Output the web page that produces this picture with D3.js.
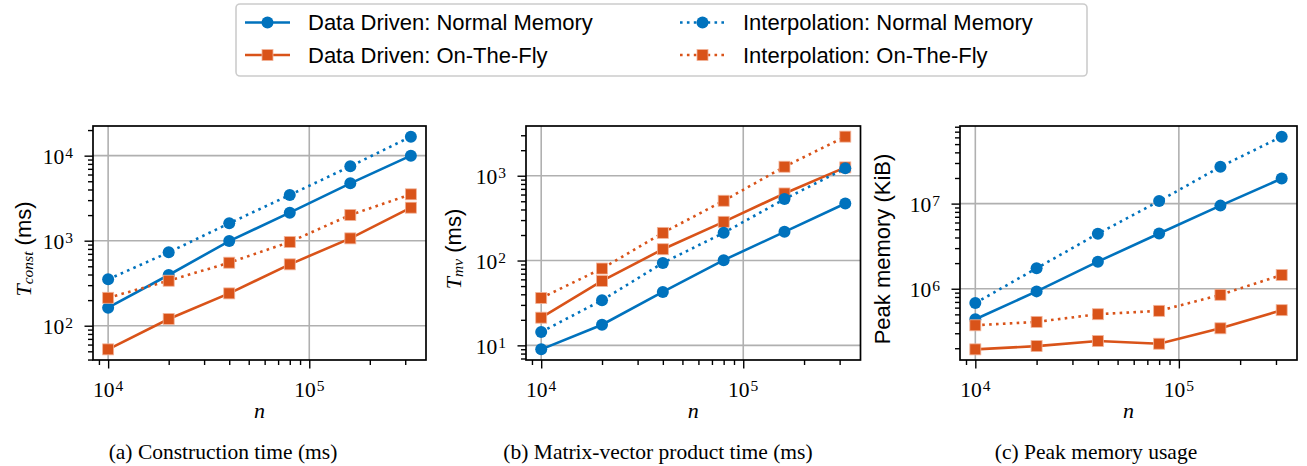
<!DOCTYPE html>
<html>
<head>
<meta charset="utf-8">
<script src="https://cdn.jsdelivr.net/npm/d3@7"></script>
<style>
  body { margin: 0; background: #fff; }
  svg { display: block; }
</style>
</head>
<body>
<svg id="chart" width="1307" height="466"></svg>
<script>
// Problem sizes (x axis, shared by all three panels)
const nValues = [1e4, 2e4, 4e4, 8e4, 1.6e5, 3.2e5];

const seriesNames = [
  "Data Driven: Normal Memory",
  "Data Driven: On-The-Fly",
  "Interpolation: Normal Memory",
  "Interpolation: On-The-Fly"
];

// (a) construction time, ms
const constDDNormal = [163, 395, 990, 2135, 4730, 10000];
const constDDOtf = [52.7, 120, 240, 527, 1065, 2445];
const constIntNormal = [351, 729, 1600, 3445, 7490, 16740];
const constIntOtf = [213, 338, 551, 965, 2005, 3510];

// (b) matrix-vector product time, ms
const mvDDNormal = [8.97, 17.5, 42.7, 101, 218, 471];
const mvDDOtf = [21.2, 57.5, 136, 286, 618, 1254];
const mvIntNormal = [14.4, 34, 93.8, 212, 530, 1221];
const mvIntOtf = [36.2, 80.5, 212, 507, 1277, 2890];

// (c) peak memory, KiB
const memDDNormal = [438e3, 931e3, 2.08e6, 4.46e6, 9.47e6, 19.7e6];
const memDDOtf = [194e3, 212e3, 243e3, 226e3, 343e3, 560e3];
const memIntNormal = [678e3, 1.74e6, 4.43e6, 10.7e6, 27.1e6, 61.2e6];
const memIntOtf = [372e3, 408e3, 502e3, 550e3, 849e3, 1.45e6];

const captions = [
  "(a) Construction time (ms)",
  "(b) Matrix-vector product time (ms)",
  "(c) Peak memory usage"
];

const blue = "#0072BD";
const orange = "#D95319";
const serif = "'Liberation Serif', 'DejaVu Serif', serif";
const sans = "'Liberation Sans', Arial, sans-serif";

const svg = d3.select("#chart");

// style for each series, in plotting order
const styles = [
  { color: blue, dash: null, marker: "circle" },
  { color: orange, dash: null, marker: "square" },
  { color: blue, dash: "2.6,4.3", marker: "circle" },
  { color: orange, dash: "2.6,4.3", marker: "square" }
];

const panels = [
  { box: [93, 426], series: [constDDNormal, constDDOtf, constIntNormal, constIntOtf],
    ylabel: "const", labelX: 23, capX: 223 },
  { box: [526, 860.5], series: [mvDDNormal, mvDDOtf, mvIntNormal, mvIntOtf],
    ylabel: "mv", labelX: 453, capX: 658 },
  { box: [960, 1297], series: [memDDNormal, memDDOtf, memIntNormal, memIntOtf],
    ylabel: "mem", labelX: 882, capX: 1096 }
];

const plotTop = 126, plotBottom = 360;

// log domain with matplotlib-like 5% margin
function logDomain(values) {
  const lo = Math.log10(d3.min(values)), hi = Math.log10(d3.max(values));
  const m = (hi - lo) * 0.05;
  return [Math.pow(10, lo - m), Math.pow(10, hi + m)];
}

function minorTicks(domain) {
  const out = [];
  const d0 = Math.floor(Math.log10(domain[0])), d1 = Math.ceil(Math.log10(domain[1]));
  for (let d = d0; d <= d1; d++) {
    for (let k = 2; k <= 9; k++) {
      const v = k * Math.pow(10, d);
      if (v >= domain[0] && v <= domain[1]) out.push(v);
    }
  }
  return out;
}

function majorTicks(domain) {
  const out = [];
  const d0 = Math.ceil(Math.log10(domain[0]) - 1e-9), d1 = Math.floor(Math.log10(domain[1]) + 1e-9);
  for (let d = d0; d <= d1; d++) out.push(Math.pow(10, d));
  return out;
}

function powLabel(sel, v) {
  const e = Math.round(Math.log10(v));
  sel.append("tspan").text("10");
  sel.append("tspan").attr("font-size", "15.5px").attr("dx", "1").attr("dy", "-6").text(e);
}

const xDomain = logDomain(nValues);

panels.forEach((p, pi) => {
  const g = svg.append("g");
  const x = d3.scaleLog().domain(xDomain).range(p.box);
  const yDomain = logDomain(p.series.flat());
  const y = d3.scaleLog().domain(yDomain).range([plotBottom, plotTop]);

  const xMajor = majorTicks(xDomain), yMajor = majorTicks(yDomain);

  // grid
  g.append("g").selectAll("line").data(xMajor).join("line")
    .attr("x1", d => x(d)).attr("x2", d => x(d))
    .attr("y1", plotTop).attr("y2", plotBottom)
    .attr("stroke", "#b0b0b0").attr("stroke-width", 1.6);
  g.append("g").selectAll("line").data(yMajor).join("line")
    .attr("y1", d => y(d)).attr("y2", d => y(d))
    .attr("x1", p.box[0]).attr("x2", p.box[1])
    .attr("stroke", "#b0b0b0").attr("stroke-width", 1.6);

  // axes ticks
  const xAxisMinor = d3.axisBottom(x).tickValues(minorTicks(xDomain)).tickSize(5).tickFormat("");
  const xAxisMajor = d3.axisBottom(x).tickValues(xMajor).tickSize(8.5).tickFormat("");
  const yAxisMinor = d3.axisLeft(y).tickValues(minorTicks(yDomain)).tickSize(5).tickFormat("");
  const yAxisMajor = d3.axisLeft(y).tickValues(yMajor).tickSize(8.5).tickFormat("");

  [xAxisMinor, xAxisMajor].forEach(ax => {
    g.append("g").attr("transform", `translate(0,${plotBottom})`).call(ax)
      .call(s => s.select(".domain").remove())
      .selectAll("line").attr("stroke", "#000").attr("stroke-width", 1.4);
  });
  [yAxisMinor, yAxisMajor].forEach(ax => {
    g.append("g").attr("transform", `translate(${p.box[0]},0)`).call(ax)
      .call(s => s.select(".domain").remove())
      .selectAll("line").attr("stroke", "#000").attr("stroke-width", 1.4);
  });

  // tick labels
  g.append("g").selectAll("text").data(xMajor).join("text")
    .attr("x", d => x(d)).attr("y", 397)
    .attr("text-anchor", "middle")
    .attr("font-family", serif).attr("font-size", "21.5px")
    .each(function(d) { powLabel(d3.select(this), d); });
  g.append("g").selectAll("text").data(yMajor).join("text")
    .attr("x", p.box[0] - 20).attr("y", d => y(d) + 8.5)
    .attr("text-anchor", "end")
    .attr("font-family", serif).attr("font-size", "21.5px")
    .each(function(d) { powLabel(d3.select(this), d); });

  // series
  const line = d3.line().x((d, i) => x(nValues[i])).y(d => y(d));
  p.series.forEach((vals, si) => {
    const st = styles[si];
    const sg = g.append("g");
    sg.append("path").datum(vals)
      .attr("d", line).attr("fill", "none")
      .attr("stroke", st.color).attr("stroke-width", 2.6)
      .attr("stroke-dasharray", st.dash);
    if (st.marker === "circle") {
      sg.selectAll("circle").data(vals).join("circle")
        .attr("cx", (d, i) => x(nValues[i])).attr("cy", d => y(d))
        .attr("r", 6).attr("fill", st.color);
    } else {
      sg.selectAll("rect").data(vals).join("rect")
        .attr("x", (d, i) => x(nValues[i]) - 5.5).attr("y", d => y(d) - 5.5)
        .attr("width", 11).attr("height", 11)
        .attr("fill", st.color).attr("stroke", "#f2b49a").attr("stroke-width", 0.8);
    }
  });

  // frame
  g.append("rect")
    .attr("x", p.box[0]).attr("y", plotTop)
    .attr("width", p.box[1] - p.box[0]).attr("height", plotBottom - plotTop)
    .attr("fill", "none").attr("stroke", "#000").attr("stroke-width", 1.7);

  // x label
  g.append("text")
    .attr("x", (p.box[0] + p.box[1]) / 2).attr("y", 418)
    .attr("text-anchor", "middle")
    .attr("font-family", serif).attr("font-style", "italic").attr("font-size", "22px")
    .text("n");

  // y label
  const yl = g.append("text")
    .attr("transform", `translate(${p.labelX},249) rotate(-90)`)
    .attr("text-anchor", "middle")
    .attr("dominant-baseline", "central")
    .attr("font-size", "22px");
  if (p.ylabel === "mem") {
    yl.attr("font-family", sans).text("Peak memory (KiB)");
  } else {
    yl.append("tspan").attr("font-family", serif).attr("font-style", "italic").text("T");
    yl.append("tspan").attr("font-family", serif).attr("font-style", "italic")
      .attr("font-size", "15.5px").attr("dy", "4").text(p.ylabel);
    yl.append("tspan").attr("font-family", sans).attr("dy", "-4").text(" (ms)");
  }

  // caption
  g.append("text")
    .attr("x", p.capX).attr("y", 459)
    .attr("text-anchor", "middle")
    .attr("font-family", serif).attr("font-size", "21.5px")
    .text(captions[pi]);
});

// legend
const legend = svg.append("g");
legend.append("rect")
  .attr("x", 236).attr("y", 4).attr("width", 851).attr("height", 72)
  .attr("rx", 4).attr("fill", "#fff")
  .attr("stroke", "#cccccc").attr("stroke-width", 1.6);

const legendPos = [
  { x: 245, y: 22.5 }, { x: 245, y: 55 },
  { x: 680, y: 22.5 }, { x: 680, y: 55 }
];

seriesNames.forEach((name, i) => {
  const st = styles[i], pos = legendPos[i];
  const lg = legend.append("g").attr("transform", `translate(${pos.x},${pos.y})`);
  lg.append("line").attr("x1", 0).attr("x2", 45).attr("y1", 0).attr("y2", 0)
    .attr("stroke", st.color).attr("stroke-width", 2.6)
    .attr("stroke-dasharray", st.dash);
  if (st.marker === "circle") {
    lg.append("circle").attr("cx", 22.5).attr("cy", 0).attr("r", 6).attr("fill", st.color);
  } else {
    lg.append("rect").attr("x", 17).attr("y", -5.5).attr("width", 11).attr("height", 11)
      .attr("fill", st.color).attr("stroke", "#f2b49a").attr("stroke-width", 0.8);
  }
  lg.append("text").attr("x", 63).attr("y", 0)
    .attr("dominant-baseline", "central")
    .attr("font-family", sans).attr("font-size", "22px")
    .text(name);
});
</script>
</body>
</html>
